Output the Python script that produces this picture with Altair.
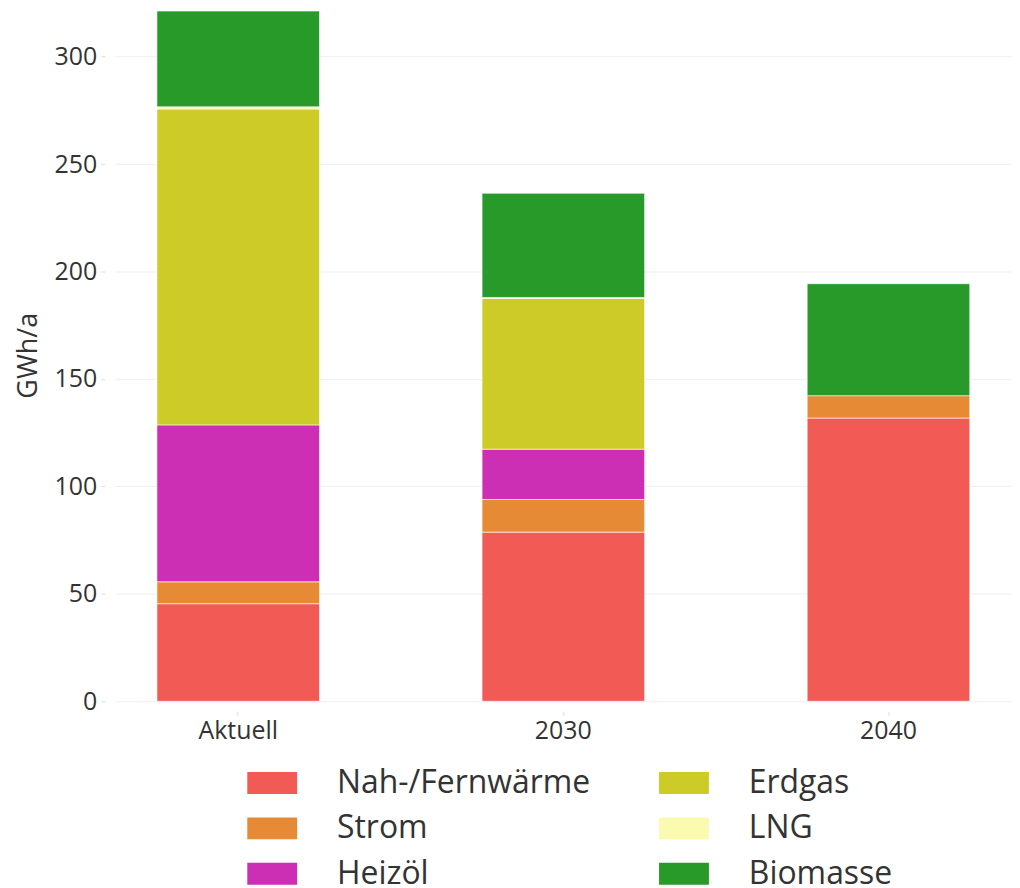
import altair as alt
import pandas as pd

periods = ["Aktuell", "2030", "2040"]
carriers = ["Nah-/Fernwärme", "Strom", "Heizöl", "Erdgas", "LNG", "Biomasse"]
colors = ["#F15A55", "#E68A36", "#CC2EB4", "#CDCB28", "#FBFBB0", "#289A29"]

nah = [45.4, 78.7, 131.8]
strom = [10.2, 15.2, 10.4]
heizoel = [73.0, 23.4, 0.0]
erdgas = [147.0, 70.1, 0.0]
lng = [1.0, 0.5, 0.0]
biomasse = [44.6, 48.5, 52.1]

series = [nah, strom, heizoel, erdgas, lng, biomasse]
rows = []
for ci, (c, vals) in enumerate(zip(carriers, series)):
    for p, v in zip(periods, vals):
        rows.append({"Zeitraum": p, "Energieträger": c, "GWh": v, "ord": ci})
df = pd.DataFrame(rows)

# legend order (row-major in 2 columns -> reads column-wise like the reference)
legend_order = ["Nah-/Fernwärme", "Erdgas", "Strom", "LNG", "Heizöl", "Biomasse"]
legend_colors = [colors[carriers.index(c)] for c in legend_order]

FONT = "Open Sans"
TXT = "#333333"

chart = alt.Chart(df).transform_filter("datum.GWh > 0").mark_bar(
    stroke="white", strokeWidth=0.6
).encode(
    x=alt.X("Zeitraum:N", sort=periods, title=None,
            scale=alt.Scale(paddingInner=0.5, paddingOuter=0.13),
            axis=alt.Axis(labelAngle=0, labelFontSize=25, labelColor=TXT, labelFont=FONT,
                          domain=False, ticks=True, tickSize=4, tickColor="#DDDDDD",
                          offset=10, labelPadding=3, grid=False)),
    y=alt.Y("GWh:Q", title="GWh/a", stack="zero",
            scale=alt.Scale(domain=[0, 322], nice=False, zero=True),
            axis=alt.Axis(values=[0, 50, 100, 150, 200, 250, 300], labelFontSize=25,
                          labelColor=TXT, labelFont=FONT, titleFont=FONT, titleFontSize=27,
                          titleColor=TXT, titleFontWeight="normal", domain=False,
                          tickSize=4, tickColor="#DDDDDD", offset=10, labelPadding=4,
                          gridColor="#EFEFEF", gridWidth=1, titlePadding=12)),
    color=alt.Color("Energieträger:N",
                    scale=alt.Scale(domain=legend_order, range=legend_colors),
                    legend=alt.Legend(title=None, orient="none", legendX=133, legendY=751,
                                      columns=2, direction="horizontal",
                                      symbolType="M-1,-0.44H1V0.44H-1Z", symbolSize=2500,
                                      symbolStrokeWidth=0, labelFontSize=32, labelFont=FONT,
                                      labelColor=TXT, labelOffset=40, rowPadding=4.5,
                                      columnPadding=69, labelLimit=400)),
    order=alt.Order("ord:Q", sort="ascending"),
    tooltip=["Zeitraum", "Energieträger", "GWh"],
).properties(
    width=900, height=694, padding={"left": 6, "top": 0, "right": 0, "bottom": 0}
).configure(font=FONT).configure_view(strokeWidth=0, stroke="transparent")

chart.save("out.html", embed_options={"renderer": "svg", "actions": False})
